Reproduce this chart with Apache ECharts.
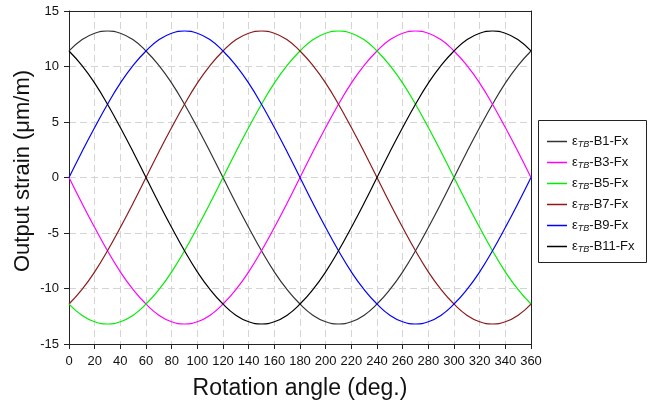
<!DOCTYPE html>
<html>
<head>
<meta charset="utf-8">
<script src="https://cdn.jsdelivr.net/npm/echarts@6/dist/echarts.min.js"></script>
<style>
html,body{margin:0;padding:0;background:#fff;}
#c{width:653px;height:406px;}
</style>
</head>
<body>
<div id="c"></div>
<script>
// Rotation angle (deg.) sample points
const angles = [0,10,20,30,40,50,60,70,80,90,100,110,120,130,140,150,160,170,180,190,200,210,220,230,240,250,260,270,280,290,300,310,320,330,340,350,360];
const xTicks = [0,20,40,60,80,100,120,140,160,180,200,220,240,260,280,300,320,340,360];
const yTicks = [-15,-10,-5,0,5,10,15];
const seriesNames = ['B1','B3','B5','B7','B9','B11'];

const B1  = [11.4,12.4,13.0,13.2,13.0,12.4,11.4,10.1,8.5,6.6,4.5,2.3,0,-2.3,-4.5,-6.6,-8.5,-10.1,-11.4,-12.4,-13.0,-13.2,-13.0,-12.4,-11.4,-10.1,-8.5,-6.6,-4.5,-2.3,0,2.3,4.5,6.6,8.5,10.1,11.4];
const B3  = [0,-2.3,-4.5,-6.6,-8.5,-10.1,-11.4,-12.4,-13.0,-13.2,-13.0,-12.4,-11.4,-10.1,-8.5,-6.6,-4.5,-2.3,0,2.3,4.5,6.6,8.5,10.1,11.4,12.4,13.0,13.2,13.0,12.4,11.4,10.1,8.5,6.6,4.5,2.3,0];
const B5  = [-11.4,-12.4,-13.0,-13.2,-13.0,-12.4,-11.4,-10.1,-8.5,-6.6,-4.5,-2.3,0,2.3,4.5,6.6,8.5,10.1,11.4,12.4,13.0,13.2,13.0,12.4,11.4,10.1,8.5,6.6,4.5,2.3,0,-2.3,-4.5,-6.6,-8.5,-10.1,-11.4];
const B7  = [-11.4,-10.1,-8.5,-6.6,-4.5,-2.3,0,2.3,4.5,6.6,8.5,10.1,11.4,12.4,13.0,13.2,13.0,12.4,11.4,10.1,8.5,6.6,4.5,2.3,0,-2.3,-4.5,-6.6,-8.5,-10.1,-11.4,-12.4,-13.0,-13.2,-13.0,-12.4,-11.4];
const B9  = [0,2.3,4.5,6.6,8.5,10.1,11.4,12.4,13.0,13.2,13.0,12.4,11.4,10.1,8.5,6.6,4.5,2.3,0,-2.3,-4.5,-6.6,-8.5,-10.1,-11.4,-12.4,-13.0,-13.2,-13.0,-12.4,-11.4,-10.1,-8.5,-6.6,-4.5,-2.3,0];
const B11 = [11.4,10.1,8.5,6.6,4.5,2.3,0,-2.3,-4.5,-6.6,-8.5,-10.1,-11.4,-12.4,-13.0,-13.2,-13.0,-12.4,-11.4,-10.1,-8.5,-6.6,-4.5,-2.3,0,2.3,4.5,6.6,8.5,10.1,11.4,12.4,13.0,13.2,13.0,12.4,11.4];

const allData = [B1,B3,B5,B7,B9,B11];
const colors = ['#333333','#ff00ff','#00ee00','#8b1a1a','#0000ff','#000000'];

const FONT = '"Liberation Sans", Arial, sans-serif';

const series = seriesNames.map((n,i)=>({
  name: n,
  type: 'line',
  smooth: true,
  symbol: 'none',
  data: angles.map((a,j)=>[a, allData[i][j]]),
  lineStyle: {color: colors[i], width: 1.2},
  itemStyle: {color: colors[i]},
  z: 3
}));

const frameAxis = {
  type: 'value',
  axisLine: {show: true, onZero: false, lineStyle: {color: '#222', width: 1}},
  axisTick: {show: false}, axisLabel: {show: false}, splitLine: {show: false}
};

const chart = echarts.init(document.getElementById('c'), null, {renderer:'canvas'});
chart.setOption({
  animation: false,
  backgroundColor: '#fff',
  grid: {left: 69, right: 122, top: 11, bottom: 62, show: false},
  xAxis: [{
    type: 'value', min: 0, max: 360, interval: 20, position: 'bottom',
    axisLine: {show: true, onZero: false, lineStyle: {color: '#222', width: 1}},
    axisTick: {show: true, inside: false, length: 5, lineStyle: {color: '#222'}},
    axisLabel: {fontFamily: FONT, fontSize: 13, color: '#111', margin: 11,
      formatter: v => xTicks.includes(v) ? String(v) : ''},
    splitLine: {show: true, lineStyle: {color: '#d4d4d4', type: [7,4], width: 1}}
  }, Object.assign({}, frameAxis, {min: 0, max: 360, position: 'top'})],
  yAxis: [{
    type: 'value', min: -15, max: 15, interval: 5, position: 'left',
    axisLine: {show: true, onZero: false, lineStyle: {color: '#222', width: 1}},
    axisTick: {show: true, inside: false, length: 5, lineStyle: {color: '#222'}},
    axisLabel: {fontFamily: FONT, fontSize: 13, color: '#111', margin: 10,
      formatter: v => yTicks.includes(v) ? String(v) : ''},
    splitLine: {show: true, lineStyle: {color: '#d4d4d4', type: [7,4], width: 1}}
  }, Object.assign({}, frameAxis, {min: -15, max: 15, position: 'right'})],
  legend: {
    orient: 'vertical',
    left: 547, top: 135,
    icon: 'rect',
    itemWidth: 20, itemHeight: 1.5, itemGap: 7,
    padding: 0,
    data: seriesNames,
    formatter: n => '{e|ε}{s|TB}{n|-' + n + '-Fx}',
    textStyle: {
      fontFamily: FONT, fontSize: 13, color: '#111',
      rich: {
        e: {fontFamily: FONT, fontSize: 13, color: '#111', lineHeight: 15},
        s: {fontFamily: FONT, fontSize: 9, fontStyle: 'italic', color: '#111', lineHeight: 15, verticalAlign: 'bottom', padding: [5,0,0,0]},
        n: {fontFamily: FONT, fontSize: 13, color: '#111', lineHeight: 15}
      }
    }
  },
  graphic: [
    {type: 'rect', shape: {x: 538.5, y: 120.5, width: 108, height: 142}, style: {fill: 'none', stroke: '#222', lineWidth: 1}, silent: true},
    {type: 'text', x: 300, y: 389, style: {text: 'Rotation angle (deg.)', font: '23px "Liberation Sans", Arial, sans-serif', fill: '#111', textAlign: 'center', textVerticalAlign: 'middle'}},
    {type: 'text', x: 23, y: 171, rotation: Math.PI/2, style: {text: 'Output strain (μm/m)', font: '22px "Liberation Sans", Arial, sans-serif', fill: '#111', textAlign: 'center', textVerticalAlign: 'middle'}}
  ],
  series: series
});
</script>
</body>
</html>
